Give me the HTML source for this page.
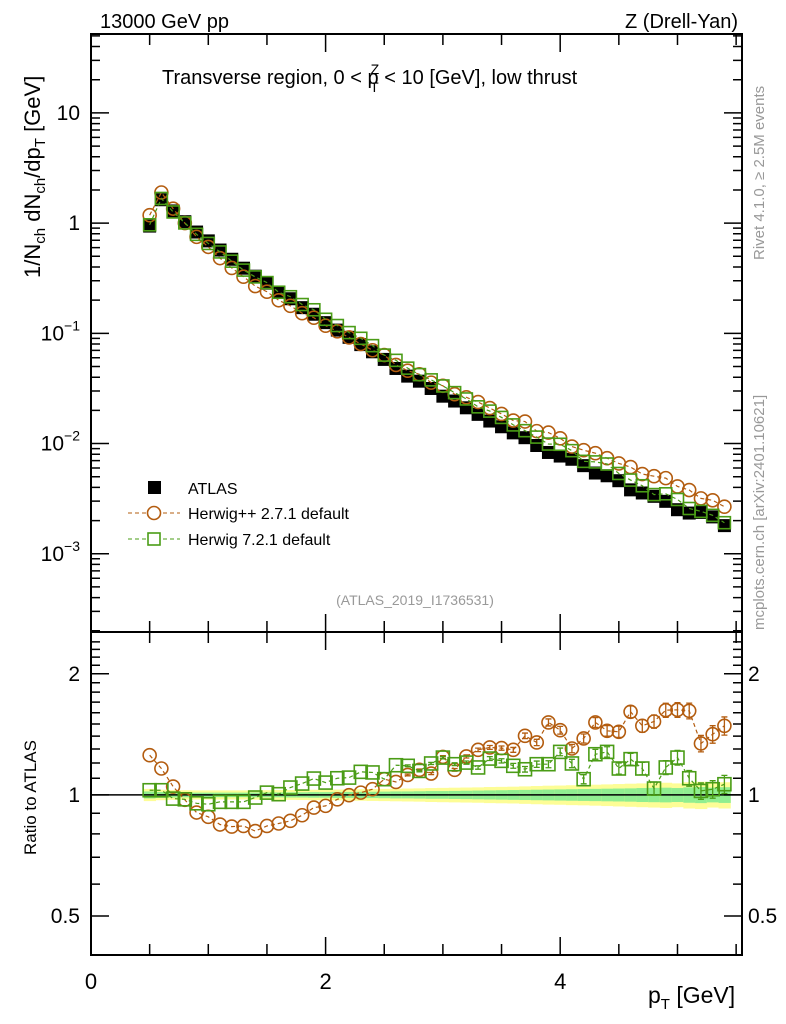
<!DOCTYPE html>
<html><head><meta charset="utf-8"><style>
html,body{margin:0;padding:0;background:#fff;}
svg{display:block;font-family:"Liberation Sans",Arial,sans-serif;}
</style></head><body>
<svg id="chart" width="786" height="1024" viewBox="0 0 786 1024" xmlns="http://www.w3.org/2000/svg">
<g id="bands"></g>
<g id="marks"></g>
<g id="axes"></g>
<text x="100" y="28" font-size="20">13000 GeV pp</text>
<text x="738" y="28" font-size="20" text-anchor="end">Z (Drell-Yan)</text>
<text x="162" y="84" font-size="20">Transverse region, 0 &lt; p<tspan font-size="14" dx="-8" dy="-10">Z</tspan><tspan font-size="14" dx="-9" dy="18">T</tspan><tspan dy="-8"> &lt; 10 [GeV], low thrust</tspan></text>
<text transform="translate(764,260) rotate(-90)" font-size="15" fill="#999">Rivet 4.1.0, ≥ 2.5M events</text>
<text transform="translate(764,630) rotate(-90)" font-size="15" fill="#999">mcplots.cern.ch [arXiv:2401.10621]</text>
<text transform="translate(40,278) rotate(-90)" font-size="22">1/N<tspan font-size="15" dy="5">ch</tspan><tspan dy="-5"> dN</tspan><tspan font-size="15" dy="5">ch</tspan><tspan dy="-5">/dp</tspan><tspan font-size="15" dy="5">T</tspan><tspan dy="-5"> [GeV]</tspan></text>
<text transform="translate(36,855) rotate(-90)" font-size="17">Ratio to ATLAS</text>
<text x="648" y="1003" font-size="23">p<tspan font-size="15" dy="6">T</tspan><tspan dy="-6"> [GeV]</tspan></text>
<text x="415" y="605" font-size="14" fill="#999" text-anchor="middle">(ATLAS_2019_I1736531)</text>
<g>
<rect x="148" y="481" width="13" height="13" fill="#000"/>
<text x="188" y="494" font-size="16">ATLAS</text>
<line x1="128" y1="513" x2="180" y2="513" stroke="#b35c0f" stroke-dasharray="4,3"/>
<circle cx="154" cy="513" r="6.5" fill="#fff" stroke="#b35c0f" stroke-width="1.6"/>
<text x="188" y="519" font-size="16">Herwig++ 2.7.1 default</text>
<line x1="128" y1="539" x2="180" y2="539" stroke="#4a9c16" stroke-dasharray="4,3"/>
<rect x="148" y="533" width="12" height="12" fill="#fff" stroke="#4a9c16" stroke-width="1.6"/>
<text x="188" y="545" font-size="16">Herwig 7.2.1 default</text>
</g>
</svg>
<script>
const xs = [0.5,0.6,0.7,0.8,0.9,1.0,1.1,1.2,1.3,1.4,1.5,1.6,1.7,1.8,1.9,2.0,2.1,2.2,2.3,2.4,2.5,2.6,2.7,2.8,2.9,3.0,3.1,3.2,3.3,3.4,3.5,3.6,3.7,3.8,3.9,4.0,4.1,4.2,4.3,4.4,4.5,4.6,4.7,4.8,4.9,5.0,5.1,5.2,5.3,5.4];
const atlas = [0.94,1.63,1.29,1.03,0.83,0.69,0.57,0.47,0.39,0.33,0.285,0.235,0.206,0.171,0.149,0.125,0.107,0.092,0.079,0.068,0.058,0.048,0.0409,0.0368,0.0316,0.0269,0.0243,0.0211,0.0184,0.0160,0.0142,0.0125,0.0113,0.0096,0.0083,0.0077,0.0072,0.0063,0.0054,0.0051,0.0046,0.0038,0.00356,0.00332,0.00299,0.00251,0.00234,0.00237,0.00216,0.0018];
const ratioHpp = [1.255,1.163,1.049,0.972,0.904,0.882,0.844,0.834,0.837,0.813,0.837,0.849,0.862,0.890,0.930,0.939,0.975,0.998,1.013,1.033,1.094,1.077,1.121,1.154,1.130,1.243,1.154,1.246,1.294,1.312,1.307,1.294,1.402,1.350,1.514,1.448,1.304,1.381,1.514,1.443,1.435,1.609,1.485,1.522,1.624,1.627,1.618,1.342,1.415,1.485];
const ratioH7 = [1.027,1.027,0.979,0.975,0.953,0.948,0.961,0.961,0.961,0.985,1.013,1.004,1.043,1.067,1.098,1.073,1.100,1.104,1.141,1.137,1.094,1.185,1.181,1.147,1.197,1.238,1.192,1.203,1.170,1.231,1.215,1.181,1.158,1.192,1.192,1.279,1.197,1.094,1.262,1.279,1.163,1.227,1.163,1.037,1.170,1.238,1.100,1.023,1.033,1.063];
const errMC = [0,0,0,0,0,0,0,0,0,0,0,0,0,0,0,0,0,0,0,0,0,0,0.005,0.005,0.006,0.007,0.008,0.009,0.01,0.011,0.012,0.014,0.016,0.018,0.02,0.022,0.024,0.026,0.028,0.03,0.032,0.034,0.036,0.038,0.04,0.042,0.045,0.047,0.05,0.052];
const bandYellow = [0.035,0.03,0.028,0.027,0.026,0.026,0.026,0.026,0.026,0.027,0.027,0.028,0.028,0.029,0.03,0.03,0.031,0.032,0.033,0.034,0.035,0.036,0.037,0.038,0.04,0.041,0.042,0.043,0.044,0.046,0.047,0.048,0.05,0.052,0.054,0.055,0.057,0.058,0.06,0.062,0.064,0.066,0.068,0.07,0.072,0.068,0.075,0.078,0.07,0.075];
const bandGreen = [0.02,0.017,0.015,0.014,0.013,0.013,0.013,0.013,0.013,0.014,0.014,0.014,0.015,0.015,0.016,0.016,0.017,0.017,0.018,0.018,0.019,0.02,0.02,0.021,0.022,0.022,0.023,0.024,0.025,0.026,0.027,0.028,0.029,0.03,0.031,0.032,0.033,0.034,0.035,0.036,0.037,0.038,0.04,0.041,0.042,0.04,0.044,0.046,0.042,0.045];
const logTicks = [0.001,0.01,0.1,1,10];
const logTickLabels = ["10","10","10","1","10"];
const logTickExp = ["−3","−2","−1","",""];
const ratioTicks = [0.5,1,2];
const ratioTickLabels = ["0.5","1","2"];
const xTicks = [0,2,4];
const xTickLabels = ["0","2","4"];

const NS="http://www.w3.org/2000/svg";
const L=91, R=742, T=34, MB=632, RB=955;
const X0=0, X1=5.55;
const YL0=Math.log10(1.95e-4), YL1=Math.log10(52);
const RL0=Math.log2(0.4), RL1=Math.log2(2.54);
function sx(v){return L+(v-X0)/(X1-X0)*(R-L);}
function sy(v){return MB-(Math.log10(v)-YL0)/(YL1-YL0)*(MB-T);}
function sr(v){return RB-(Math.log2(v)-RL0)/(RL1-RL0)*(RB-MB);}
function mk(tag,attrs,parent){const e=document.createElementNS(NS,tag);for(const k in attrs)e.setAttribute(k,attrs[k]);parent.appendChild(e);return e;}
const bands=document.getElementById('bands'), marks=document.getElementById('marks'), axes=document.getElementById('axes');
const hw=0.05;
for(let i=0;i<xs.length;i++){
  const x0=sx(xs[i]-hw), x1=sx(xs[i]+hw);
  const y=mk('rect',{x:x0,y:sr(1+bandYellow[i]),width:x1-x0+0.5,height:sr(1-bandYellow[i])-sr(1+bandYellow[i]),fill:'#fdfd96'},bands);
  
  
  const g=mk('rect',{x:x0,y:sr(1+bandGreen[i]),width:x1-x0+0.5,height:sr(1-bandGreen[i])-sr(1+bandGreen[i]),fill:'#90ee90'},bands);
  
  
}
const unity=mk('line',{x1:L,x2:R,y1:sr(1),y2:sr(1),stroke:'#000','stroke-width':1.5},bands);


for(let i=0;i<xs.length;i++){
  const r=mk('rect',{x:sx(xs[i])-6.5,y:sy(atlas[i])-6.5,width:13,height:13,fill:'#000'},marks);
  
  
}
function series(ratio,color,shape,nm){
  let pm='',pr='';
  for(let i=0;i<xs.length;i++){
    const v=atlas[i]*ratio[i];
    pm+=(i?'L':'M')+sx(xs[i])+','+sy(v);
    pr+=(i?'L':'M')+sx(xs[i])+','+sr(ratio[i]);
  }
  const l1=mk('path',{d:pm,fill:'none',stroke:color,'stroke-dasharray':'4,3','stroke-width':1.2},marks);
  
  
  const l2=mk('path',{d:pr,fill:'none',stroke:color,'stroke-dasharray':'4,3','stroke-width':1.2},marks);
  
  
  for(let i=0;i<xs.length;i++){
    const cx=sx(xs[i]);
    const v=atlas[i]*ratio[i];
    if(errMC[i]>0){
      const e=ratio[i]*errMC[i];
      const y1=sr(ratio[i]+e), y2=sr(ratio[i]-e);
      const eb=mk('path',{d:`M${cx},${y1}L${cx},${y2}M${cx-3},${y1}L${cx+3},${y1}M${cx-3},${y2}L${cx+3},${y2}`,stroke:color,'stroke-width':1.3,fill:'none'},marks);
      
      
    }
    let a,b;
    if(shape==='c'){
      a=mk('circle',{cx:cx,cy:sy(v),r:6.5,fill:'none',stroke:color,'stroke-width':1.6},marks);
      b=mk('circle',{cx:cx,cy:sr(ratio[i]),r:6.5,fill:'none',stroke:color,'stroke-width':1.6},marks);
    } else {
      a=mk('rect',{x:cx-6,y:sy(v)-6,width:12,height:12,fill:'none',stroke:color,'stroke-width':1.6},marks);
      b=mk('rect',{x:cx-6.5,y:sr(ratio[i])-6.5,width:13,height:13,fill:'none',stroke:color,'stroke-width':1.6},marks);
    }
    
    
    
    
  }
}
series(ratioHpp,'#b35c0f','c','herwigpp');
series(ratioH7,'#4a9c16','s','herwig7');
const f1=mk('rect',{x:L,y:T,width:R-L,height:MB-T,fill:'none',stroke:'#000','stroke-width':2},axes);


const f2=mk('rect',{x:L,y:MB,width:R-L,height:RB-MB,fill:'none',stroke:'#000','stroke-width':2},axes);


let tk='';
for(let v=0;v<=5.5;v+=0.5){
  const x=sx(v), len=(Math.abs(v-Math.round(v/2)*2)<1e-6)?18:11;
  tk+=`M${x},${T}L${x},${T+len}M${x},${MB}L${x},${MB-len}M${x},${MB}L${x},${MB+len}M${x},${RB}L${x},${RB-len}`;
}
for(let d=-4;d<=1;d++){
  for(let m=1;m<10;m++){
    const v=m*Math.pow(10,d); const y=sy(v);
    if(y<T||y>MB) continue;
    const len=m===1?18:9;
    tk+=`M${L},${y}L${L+len},${y}M${R},${y}L${R-len},${y}`;
  }
}
for(let v=0.4;v<=2.5;v+=0.1){
  const y=sr(v); if(y<MB||y>RB) continue;
  const major=[0.5,1,2].some(t=>Math.abs(t-v)<1e-6);
  const len=major?18:9;
  tk+=`M${L},${y}L${L+len},${y}M${R},${y}L${R-len},${y}`;
}
const tp=mk('path',{d:tk,stroke:'#000','stroke-width':1.5,fill:'none'},axes);


for(let i=0;i<xTicks.length;i++){
  const t=mk('text',{x:sx(xTicks[i]),y:RB+34,'font-size':22,'text-anchor':'middle'},axes);
  t.textContent=xTickLabels[i];
  
  
}
for(let i=0;i<logTicks.length;i++){
  const y=sy(logTicks[i]);
  const t=mk('text',{x:80,y:y+7,'font-size':21,'text-anchor':'end'},axes);
  t.textContent=logTickLabels[i];
  if(logTickExp[i]){
    const s=mk('tspan',{'font-size':14,dy:-10},t); s.textContent=logTickExp[i];
  }
  
  
}
for(let i=0;i<ratioTicks.length;i++){
  const y=sr(ratioTicks[i]);
  const t=mk('text',{x:80,y:y+7,'font-size':21,'text-anchor':'end'},axes);
  t.textContent=ratioTickLabels[i];
  
  
  const t2=mk('text',{x:748,y:y+7,'font-size':21},axes);
  t2.textContent=ratioTickLabels[i];
  
  
}
</script>
</body></html>
